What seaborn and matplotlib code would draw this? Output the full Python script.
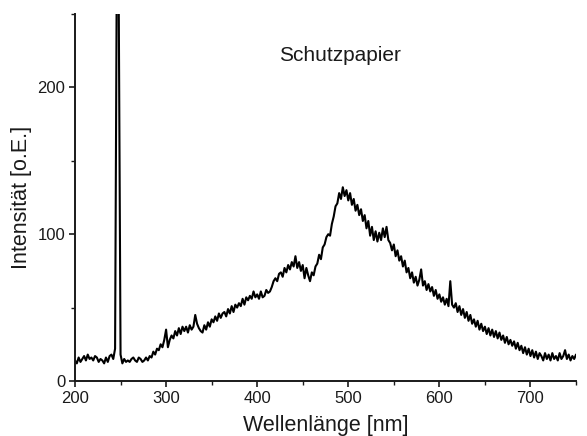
import numpy as np
import pandas as pd
import matplotlib
matplotlib.use("Agg")
import matplotlib.pyplot as plt
import seaborn as sns
from matplotlib.ticker import MultipleLocator

# Wavelength grid (nm), sampled every 2 nm
wavelength = list(range(200, 752, 2))

# Intensity values (o.E.)
intensity = [
    # 200-218
    14, 12, 16, 13, 15, 17, 14, 18, 15, 16,
    # 220-238
    14, 17, 16, 13, 15, 14, 12, 16, 13, 17,
    # 240-258
    18, 15, 22, 300, 260, 18, 12, 15, 13, 14,
    # 260-278
    13, 15, 16, 14, 13, 16, 15, 13, 14, 16,
    # 280-298
    14, 17, 16, 20, 18, 22, 21, 25, 23, 28,
    # 300-318
    35, 23, 28, 31, 29, 34, 31, 36, 32, 37,
    # 320-338
    34, 37, 33, 38, 35, 37, 45, 39, 36, 34,
    # 340-358
    33, 38, 35, 40, 37, 42, 40, 44, 41, 46,
    # 360-378
    43, 46, 47, 44, 49, 46, 51, 47, 52, 50,
    # 380-398
    53, 51, 56, 52, 57, 55, 58, 56, 61, 57,
    # 400-418
    59, 56, 61, 57, 58, 62, 60, 61, 64, 68,
    # 420-438
    70, 68, 73, 74, 71, 77, 74, 79, 76, 81,
    # 440-458
    78, 85, 77, 81, 75, 79, 70, 77, 72, 68,
    # 460-478
    74, 72, 78, 80, 86, 83, 91, 93, 98, 100,
    # 480-498
    99, 107, 112, 119, 121, 128, 124, 132, 126, 130,
    # 500-518
    123, 128, 120, 124, 116, 120, 113, 117, 109, 113,
    # 520-538
    104, 109, 99, 105, 96, 102, 95, 101, 96, 104,
    # 540-558
    98, 105, 96, 94, 89, 93, 85, 89, 82, 85,
    # 560-578
    78, 82, 74, 77, 70, 74, 67, 71, 65, 69,
    # 580-598
    76, 65, 68, 62, 66, 61, 64, 58, 62, 56,
    # 600-618
    59, 54, 57, 52, 56, 51, 68, 52, 50, 53,
    # 620-638
    47, 51, 45, 49, 43, 47, 41, 45, 39, 42,
    # 640-658
    37, 41, 35, 39, 34, 37, 32, 36, 31, 35,
    # 660-678
    30, 34, 29, 33, 28, 31, 26, 30, 25, 28,
    # 680-698
    24, 27, 22, 26, 21, 24, 19, 23, 18, 22,
    # 700-718
    17, 21, 16, 20, 15, 19, 17, 14, 19, 15,
    # 720-738
    18, 14, 19, 15, 17, 14, 19, 15, 17, 21,
    # 740-750
    15, 18, 14, 17, 15, 18,
]

x_ticks = [200, 300, 400, 500, 600, 700]
y_ticks = [0, 100, 200]

df = pd.DataFrame({"Wellenlänge": wavelength, "Intensität": intensity})

sns.set_style("ticks")
plt.rcParams["font.family"] = ["Liberation Sans", "DejaVu Sans"]

fig = plt.figure(figsize=(5.87, 4.36), dpi=100)
ax = fig.add_axes([75 / 587, 55 / 436, 501 / 587, 367 / 436])

sns.lineplot(data=df, x="Wellenlänge", y="Intensität", ax=ax,
             color="black", linewidth=1.5)

ax.set_xlim(200, 750)
ax.set_ylim(0, 250)
ax.set_xticks(x_ticks)
ax.set_yticks(y_ticks)
ax.xaxis.set_minor_locator(MultipleLocator(50))
ax.yaxis.set_minor_locator(MultipleLocator(50))

for s in ["top", "right"]:
    ax.spines[s].set_visible(False)
for s in ["left", "bottom"]:
    ax.spines[s].set_linewidth(1.4)
    ax.spines[s].set_color("#1a1a1a")

ax.tick_params(axis="both", which="major", direction="out", length=4,
               width=1.2, labelsize=12, colors="#1a1a1a", pad=3)
ax.tick_params(axis="both", which="minor", direction="out", length=3,
               width=1.0, colors="#1a1a1a")

ax.set_xlabel("Wellenlänge [nm]", fontsize=15.5, color="#1a1a1a", labelpad=7)
ax.set_ylabel("Intensität [o.E.]", fontsize=15.5, color="#1a1a1a", labelpad=4)

ax.text(491, 222, "Schutzpapier", fontsize=15, color="#1a1a1a",
        ha="center", va="center")

fig.savefig("out.png", dpi=100)
